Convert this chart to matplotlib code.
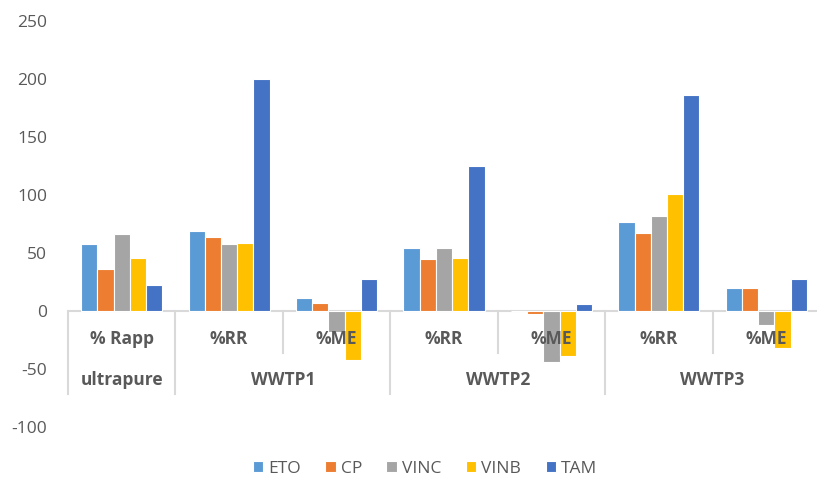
import matplotlib
matplotlib.use("Agg")
import matplotlib.pyplot as plt
import numpy as np

plt.rcParams['font.family'] = ['Open Sans', 'DejaVu Sans']
plt.rcParams['axes.unicode_minus'] = False

# sous-catégories (niveau 1) et groupes (niveau 2)
sub_labels = ["% Rapp", "%RR", "%ME", "%RR", "%ME", "%RR", "%ME"]
groups = ["ultrapure", "WWTP1", "WWTP2", "WWTP3"]
group_spans = [(0, 0), (1, 2), (3, 4), (5, 6)]

series = ["ETO", "CP", "VINC", "VINB", "TAM"]
ETO = [57.5, 69, 11, 54, 0, 77, 20]
CP = [36.5, 64, 7, 44.5, -3, 67, 20]
VINC = [66, 57.5, -18, 54, -44, 82, -12]
VINB = [46, 58.5, -42.5, 46, -39, 100.5, -32]
TAM = [22, 200, 28, 125, 6.3, 186.5, 28]
values = [ETO, CP, VINC, VINB, TAM]
colors = ["#5B9BD5", "#ED7D31", "#A5A5A5", "#FFC000", "#4472C4"]

fig = plt.figure(figsize=(8.17, 4.79), dpi=100)
ax = fig.add_axes([68 / 817, 1 - 427 / 479, 752 / 817, 406 / 479])

x = np.arange(len(sub_labels))
w = 0.151
for k, (name, vals, c) in enumerate(zip(series, values, colors)):
    ax.bar(x + (k - 2) * w, vals, width=w, color=c, edgecolor="white",
           linewidth=0.8, label=name, zorder=2)

ax.set_xlim(-0.5, len(sub_labels) - 0.5)
ax.set_ylim(-100, 250)
ax.set_yticks(np.arange(-100, 251, 50))
ax.tick_params(axis="y", length=0, pad=15, labelsize=12.5, labelcolor="#595959")
ax.set_xticks([])
for s in ax.spines.values():
    s.set_visible(False)

grey = "#D9D9D9"
ax.axhline(0, color=grey, lw=1.5, zorder=1)

# étiquettes de catégories sur deux niveaux
for i, lab in enumerate(sub_labels):
    ax.annotate(lab, xy=(i, 0), xytext=(0, -20), textcoords="offset points",
                ha="center", va="center", fontsize=12.5, fontweight="bold",
                color="#595959", zorder=5, annotation_clip=False)
for g, (a, b) in zip(groups, group_spans):
    ax.annotate(g, xy=((a + b) / 2, 0), xytext=(0, -50), textcoords="offset points",
                ha="center", va="center", fontsize=12.5, fontweight="bold",
                color="#595959", zorder=5, annotation_clip=False)

# traits de séparation
for (a, b) in group_spans:
    ax.plot([a - 0.5, a - 0.5], [0, -71.5], color=grey, lw=1.5, clip_on=False, zorder=1)
    if b > a:
        ax.plot([b - 0.5, b - 0.5], [0, -36], color=grey, lw=1.5, clip_on=False, zorder=1)

leg = fig.legend(loc="center", bbox_to_anchor=(425 / 817, 10 / 479), ncol=5,
                 frameon=False, fontsize=12.5, handlelength=0.6, handleheight=0.6,
                 handletextpad=0.3, columnspacing=1.4)
for t in leg.get_texts():
    t.set_color("#595959")

fig.savefig("out.png", dpi=100)
